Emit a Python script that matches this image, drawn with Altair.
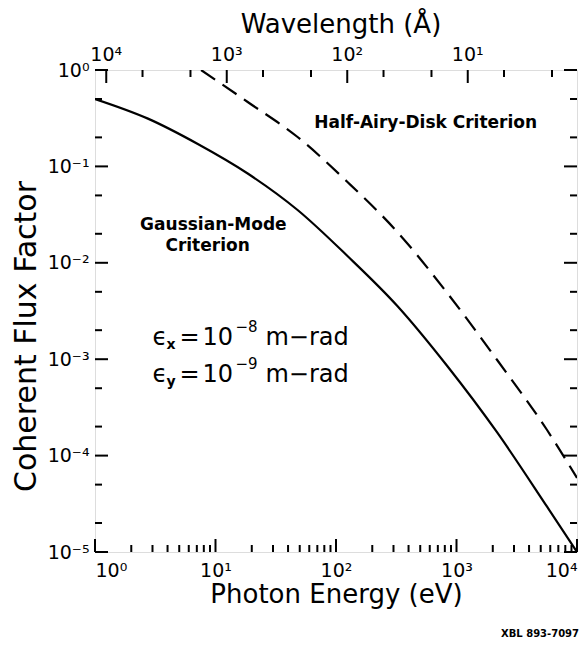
import json
import altair as alt
import pandas as pd

HC = 12398.4  # eV * Angstrom, converts wavelength to photon energy

# Gaussian-mode criterion (solid curve)
gauss_E = [1.0, 2.75, 7.13, 18.5, 48.0, 124.5, 323, 838, 2175, 5644, 10000]
gauss_F = [0.500, 0.313, 0.1708, 0.0844, 0.0353, 0.01176, 0.003564, 8.50e-4, 1.737e-4, 2.95e-5, 1.0e-5]

# Half-Airy-disk criterion (dashed curve)
airy_E = [7.59, 18.5, 48.0, 124.5, 323, 838, 2175, 5644, 10000]
airy_F = [1.0, 0.4656, 0.2018, 0.0689, 0.02087, 0.004861, 9.81e-4, 1.843e-4, 5.86e-5]

# Ticks / labels
x_major = [1, 10, 100, 1000, 10000]
x_major_labels = ["10⁰", "10¹", "10²", "10³", "10⁴"]
x_minor = [m * 10 ** d for d in range(4) for m in range(2, 10)]
y_major = [1e-5, 1e-4, 1e-3, 1e-2, 1e-1, 1.0]
y_major_labels = ["10⁻⁵", "10⁻⁴", "10⁻³", "10⁻²", "10⁻¹", "10⁰"]
y_minor = [m * 10.0 ** d for d in range(-5, 0) for m in (2, 5)]
lam_major = [1e4, 1e3, 1e2, 1e1]
lam_major_labels = ["10⁴", "10³", "10²", "10¹"]
lam_minor = [5000, 2000, 500, 200, 50, 20, 5, 2]

# Annotations
ann_text = ["Half-Airy-Disk Criterion", "Gaussian-Mode", "Criterion"]
ann_E = [555, 9.6, 8.6]
ann_F = [0.25, 0.0219, 0.0131]
emit_E = [3.0, 3.0]
emit_F = [1.40e-3, 5.80e-4]
emit_sub = ["x", "y"]
emit_exp = ["−8", "−9"]

W, H = 482, 482
FONT = "DejaVu Sans"

x_expr = json.dumps(x_major_labels, ensure_ascii=False) + "[round(log(datum.value)/LN10)]"
y_expr = json.dumps(y_major_labels, ensure_ascii=False) + "[round(log(datum.value)/LN10)+5]"

xscale = alt.Scale(type="log", domain=[1, 10000], nice=False)
yscale = alt.Scale(type="log", domain=[1e-5, 1], nice=False)

xaxis = alt.Axis(values=x_major, labelExpr=x_expr, ticks=False, tickSize=0, domain=False,
                 grid=False, labelFontSize=19, labelFont=FONT, labelColor="black",
                 labelPadding=9, labelFlush=True, labelOverlap=False,
                 title="Photon Energy (eV)", titleFont=FONT, titleFontSize=26,
                 titleFontWeight="normal", titleColor="black", titleY=50,
                 titleBaseline="alphabetic")
yaxis = alt.Axis(values=y_major, labelExpr=y_expr, ticks=False, tickSize=0, domain=False,
                 grid=False, labelFontSize=19, labelFont=FONT, labelColor="black",
                 labelPadding=6, labelFlush=False, labelOverlap=False,
                 title="Coherent Flux Factor", titleFont=FONT, titleFontSize=30,
                 titleFontWeight="normal", titleColor="black", titleX=-60, titleY=266,
                 titleAlign="center", titleBaseline="alphabetic")

X = alt.X("E:Q", scale=xscale, axis=xaxis)
Y = alt.Y("F:Q", scale=yscale, axis=yaxis)

gauss = pd.DataFrame({"E": gauss_E, "F": gauss_F})
airy = pd.DataFrame({"E": airy_E, "F": airy_F})

solid = alt.Chart(gauss).mark_line(color="black", strokeWidth=2.2, clip=True,
                                   interpolate="monotone").encode(x=X, y=Y)
dashed = alt.Chart(airy).mark_line(color="black", strokeWidth=2.2, strokeDash=[17, 9], clip=True,
                                   interpolate="monotone").encode(x=X, y=Y)

def xrule(vals, y0, y1):
    return alt.Chart(pd.DataFrame({"E": vals})).mark_rule(color="black", strokeWidth=2).encode(
        x=X, y=alt.value(y0), y2=alt.value(y1))

def yrule(vals, x0, x1):
    return alt.Chart(pd.DataFrame({"F": vals})).mark_rule(color="black", strokeWidth=2).encode(
        y=Y, x=alt.value(x0), x2=alt.value(x1))

top_major_E = [HC / l for l in lam_major]
top_minor_E = [HC / l for l in lam_minor]

ticks = [
    xrule(x_major, H, H - 13), xrule(x_minor, H, H - 7),
    xrule(top_major_E, 0, 13), xrule(top_minor_E, 0, 7),
    yrule(y_major, 0, 13), yrule(y_minor, 0, 7),
    yrule(y_major, W, W - 13), yrule(y_minor, W, W - 7),
]

top_labels = alt.Chart(pd.DataFrame({"E": top_major_E, "label": lam_major_labels})).mark_text(
    font=FONT, fontSize=19, align="center", baseline="alphabetic", color="black"
).encode(x=X, y=alt.value(-9), text="label:N")

top_title = alt.Chart(pd.DataFrame({"t": ["Wavelength (Å)"]})).mark_text(
    font=FONT, fontSize=26, align="center", baseline="alphabetic", color="black"
).encode(x=alt.value(W / 2 + 5), y=alt.value(-37), text="t:N")

ann = alt.Chart(pd.DataFrame({"E": ann_E, "F": ann_F, "t": ann_text})).mark_text(
    font=FONT, fontSize=17, fontWeight="bold", align="center", baseline="alphabetic", color="black"
).encode(x=X, y=Y, text="t:N")

emit_df = pd.DataFrame({"E": emit_E, "F": emit_F, "sym": ["ϵ", "ϵ"], "sub": emit_sub,
                        "eq": ["=", "="], "ten": ["10", "10"], "exp": emit_exp,
                        "unit": ["m−rad", "m−rad"]})

def piece(field, dx, dy, size, weight="normal"):
    return alt.Chart(emit_df).mark_text(
        font=FONT, fontSize=size, fontWeight=weight, align="left", baseline="alphabetic",
        dx=dx, dy=dy, color="black"
    ).encode(x=X, y=Y, text=f"{field}:N")

emit = [
    piece("sym", 0, 0, 24),
    piece("sub", 14, 4, 14, "bold"),
    piece("eq", 27, 0, 24),
    piece("ten", 50, 0, 24),
    piece("exp", 83, -13, 15),
    piece("unit", 113, 0, 24),
]

xbl = alt.Chart(pd.DataFrame({"t": ["XBL 893-7097"]})).mark_text(
    font=FONT, fontSize=10, fontWeight="bold", align="center", baseline="alphabetic", color="black"
).encode(x=alt.value(445), y=alt.value(567), text="t:N")

chart = alt.layer(solid, dashed, *ticks, top_labels, top_title, ann, *emit, xbl).properties(
    width=W, height=H,
    autosize=alt.AutoSizeParams(type="none"),
    padding={"left": 87, "top": 62, "right": 2, "bottom": 86},
).configure_view(stroke="black", strokeWidth=2.5).configure(font=FONT)

chart.save("out.html", embed_options={"renderer": "svg", "actions": False})
